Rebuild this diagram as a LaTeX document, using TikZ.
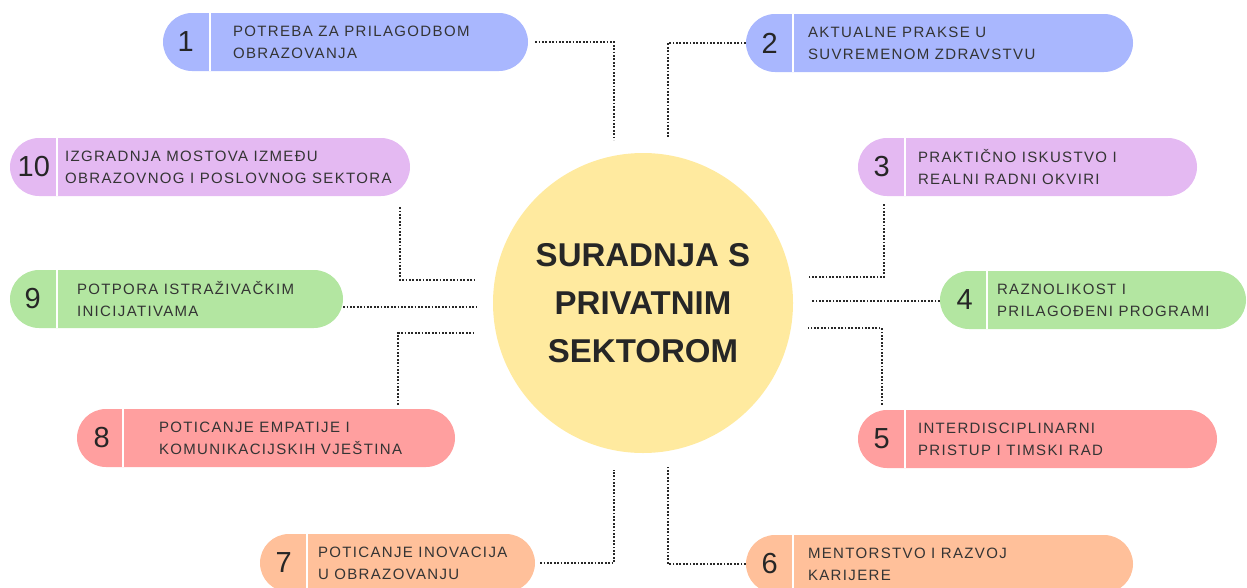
\documentclass[tikz,border=0pt]{standalone}
\usepackage{fontspec}
\setmainfont{Liberation Sans}
\newfontfamily\pillfont[LetterSpace=9]{Liberation Sans}
\usepackage{tikz}
\usetikzlibrary{positioning}
\definecolor{pillblue}{RGB}{169,183,254}
\definecolor{pilllilac}{RGB}{228,185,242}
\definecolor{pillgreen}{RGB}{179,230,161}
\definecolor{pillpink}{RGB}{255,159,159}
\definecolor{pillpeach}{RGB}{255,192,154}
\definecolor{hubyellow}{RGB}{255,234,159}
\definecolor{inkgray}{RGB}{52,52,52}
\definecolor{linkdark}{RGB}{40,40,40}

\begin{document}
\begin{tikzpicture}[
  x=1pt, y=-1pt,
  every node/.style={text=inkgray},
  pill/.style={rounded corners=29pt, minimum height=58pt, inner sep=0pt},
  num/.style={font=\fontsize{29}{29}\selectfont, text=black!85},
  txt/.style={anchor=west, align=left, inner sep=0pt, font=\pillfont\fontsize{15}{22}\selectfont},
  split/.style={draw=white, line width=2.5pt},
  link/.style={draw=linkdark, line width=2pt, dash pattern=on 1.8pt off 1.6pt},
  hub/.style={circle, fill=hubyellow, minimum size=300pt, inner sep=0pt, align=center,
              font=\bfseries\fontsize{33}{48}\selectfont, text=black!85}
]
  \useasboundingbox (0,0) rectangle (1247,587);
  \clip (0,0) rectangle (1247,587);

  \node[hub] (c) at (643,303) {SURADNJA S\\PRIVATNIM\\SEKTOROM};

  \node[pill, fill=pillblue,  minimum width=365pt] (b1)  at (345.5,42)  {};
  \node[pill, fill=pillblue,  minimum width=387pt] (b2)  at (939.5,43)  {};
  \node[pill, fill=pilllilac, minimum width=339pt] (b3)  at (1027.5,167) {};
  \node[pill, fill=pillgreen, minimum width=306pt] (b4)  at (1093,300)  {};
  \node[pill, fill=pillpink,  minimum width=359pt] (b5)  at (1037.5,439) {};
  \node[pill, fill=pillpeach, minimum width=387pt] (b6)  at (939.5,564) {};
  \node[pill, fill=pillpeach, minimum width=275pt] (b7)  at (397.5,563) {};
  \node[pill, fill=pillpink,  minimum width=378pt] (b8)  at (266,438)   {};
  \node[pill, fill=pillgreen, minimum width=333pt] (b9)  at (176.5,299) {};
  \node[pill, fill=pilllilac, minimum width=400pt] (b10) at (210,167)   {};

  \draw[split] ([xshift=47pt]b1.north west)  -- ([xshift=47pt]b1.south west);
  \draw[split] ([xshift=47pt]b2.north west)  -- ([xshift=47pt]b2.south west);
  \draw[split] ([xshift=47pt]b3.north west)  -- ([xshift=47pt]b3.south west);
  \draw[split] ([xshift=47pt]b4.north west)  -- ([xshift=47pt]b4.south west);
  \draw[split] ([xshift=47pt]b5.north west)  -- ([xshift=47pt]b5.south west);
  \draw[split] ([xshift=47pt]b6.north west)  -- ([xshift=47pt]b6.south west);
  \draw[split] ([xshift=47pt]b7.north west)  -- ([xshift=47pt]b7.south west);
  \draw[split] ([xshift=46pt]b8.north west)  -- ([xshift=46pt]b8.south west);
  \draw[split] ([xshift=47pt]b9.north west)  -- ([xshift=47pt]b9.south west);
  \draw[split] ([xshift=47pt]b10.north west) -- ([xshift=47pt]b10.south west);

  \node[num] (n1)  at ([xshift=23pt]b1.west)  {1};
  \node[num] (n2)  at ([xshift=24pt]b2.west)  {2};
  \node[num] (n3)  at ([xshift=24pt]b3.west)  {3};
  \node[num] (n4)  at ([xshift=25pt]b4.west)  {4};
  \node[num] (n5)  at ([xshift=24pt]b5.west)  {5};
  \node[num] (n6)  at ([xshift=24pt]b6.west)  {6};
  \node[num] (n7)  at ([xshift=24pt]b7.west)  {7};
  \node[num] (n8)  at ([xshift=25pt]b8.west)  {8};
  \node[num] (n9)  at ([xshift=23pt]b9.west)  {9};
  \node[num] (n10) at ([xshift=24pt]b10.west) {10};

  \node[txt] (t1)  at ([xshift=70pt]b1.west)  {POTREBA ZA PRILAGODBOM\\OBRAZOVANJA};
  \node[txt] (t2)  at ([xshift=62pt]b2.west)  {AKTUALNE PRAKSE U\\SUVREMENOM ZDRAVSTVU};
  \node[txt] (t3)  at ([xshift=60pt]b3.west)  {PRAKTIČNO ISKUSTVO I\\REALNI RADNI OKVIRI};
  \node[txt] (t4)  at ([xshift=57pt]b4.west)  {RAZNOLIKOST I\\PRILAGOĐENI PROGRAMI};
  \node[txt] (t5)  at ([xshift=60pt]b5.west)  {INTERDISCIPLINARNI\\PRISTUP I TIMSKI RAD};
  \node[txt] (t6)  at ([xshift=62pt]b6.west)  {MENTORSTVO I RAZVOJ\\KARIJERE};
  \node[txt] (t7)  at ([xshift=58pt]b7.west)  {POTICANJE INOVACIJA\\U OBRAZOVANJU};
  \node[txt] (t8)  at ([xshift=82pt]b8.west)  {POTICANJE EMPATIJE I\\KOMUNIKACIJSKIH VJEŠTINA};
  \node[txt] (t9)  at ([xshift=67pt]b9.west)  {POTPORA ISTRAŽIVAČKIM\\INICIJATIVAMA};
  \node[txt] (t10) at ([xshift=55pt]b10.west) {IZGRADNJA MOSTOVA IZMEĐU\\OBRAZOVNOG I POSLOVNOG SEKTORA};

  \coordinate (e1)  at (614,140);
  \coordinate (e2)  at (668,137);
  \coordinate (e3)  at (808,277);
  \coordinate (e4)  at (812,301);
  \coordinate (e5)  at (808,328);
  \coordinate (e6)  at (668,467);
  \coordinate (e7)  at (614,470);
  \coordinate (e8)  at (474,333);
  \coordinate (e9)  at (476,307);
  \coordinate (e10) at (476,280);

  \draw[link] ([xshift=7pt]b1.east) -| (e1);
  \draw[link] (b2.west) -| (e2);
  \draw[link] ([shift={(26pt,-8pt)}]b3.south west) |- (e3);
  \draw[link] (b4.west |- e4) -- (e4);
  \draw[link] ([shift={(24pt,5pt)}]b5.north west) |- (e5);
  \draw[link] (b6.west) -| (e6);
  \draw[link] ([xshift=5pt]b7.east) -| (e7);
  \draw[link] ([shift={(-57pt,4pt)}]b8.north east) |- (e8);
  \draw[link] (b9.east |- e9) -- (e9);
  \draw[link] ([shift={(-10pt,-11pt)}]b10.south east) |- (e10);
\end{tikzpicture}
\end{document}
